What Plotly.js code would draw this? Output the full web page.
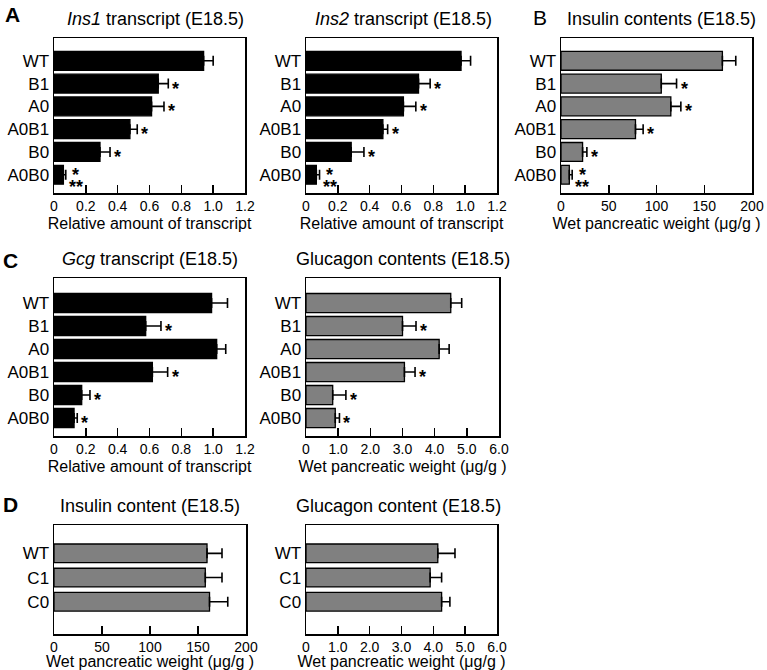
<!DOCTYPE html>
<html>
<head>
<meta charset="utf-8">
<script src="https://cdn.plot.ly/plotly-3.0.1.min.js"></script>
<style>
  body { margin: 0; background: #fff; }
  #chart { width: 767px; height: 670px; }
</style>
</head>
<body>
<div id="chart"></div>
<script>
// genotypes
const catsAC = ["WT", "B1", "A0", "A0B1", "B0", "A0B0"];
const catsD = ["WT", "C1", "C0"];

// A: Ins1 / Ins2 transcript (relative amount)
const ins1Val = [0.94, 0.655, 0.613, 0.477, 0.289, 0.059];
const ins1Err = [0.06, 0.063, 0.078, 0.046, 0.063, 0.015];
const ins2Val = [0.974, 0.707, 0.612, 0.483, 0.284, 0.065];
const ins2Err = [0.06, 0.073, 0.078, 0.03, 0.08, 0.02];
// B: insulin contents (ug/g)
const insContVal = [169, 105, 115, 78, 22.6, 8.7];
const insContErr = [14, 16, 10.5, 8, 4.5, 3];
// C: Gcg transcript / glucagon contents
const gcgVal = [0.99, 0.576, 1.022, 0.618, 0.174, 0.126];
const gcgErr = [0.1, 0.096, 0.057, 0.096, 0.052, 0.02];
const glucContVal = [4.5, 3.0, 4.14, 3.06, 0.83, 0.91];
const glucContErr = [0.34, 0.42, 0.31, 0.33, 0.41, 0.13];
// D: insulin / glucagon content
const insDVal = [159.4, 157.6, 162];
const insDErr = [15.6, 17.4, 19];
const glucDVal = [4.14, 3.9, 4.26];
const glucDErr = [0.54, 0.36, 0.26];

// significance marks: "*" vs WT, "**" second comparison
const starAB = ["", "*", "*", "*", "*", "*"];
const dstarAB = ["", "", "", "", "", "**"];
const starGcg = ["", "*", "", "*", "*", "*"];
const starGluc = ["", "*", "", "*", "*", "*"];
const noStars = ["", "", ""];

// tick labels
const relTicks = [0, 0.2, 0.4, 0.6, 0.8, 1.0, 1.2];
const relTickText = ["0", "0.2", "0.4", "0.6", "0.8", "1.0", "1.2"];
const ugTicks = [0, 50, 100, 150, 200];
const ugTickText = ["0", "50", "100", "150", "200"];
const gluTicks = [0, 1, 2, 3, 4, 5, 6];
const gluTickText = ["0", "1.0", "2.0", "3.0", "4.0", "5.0", "6.0"];

const W = 767, H = 670;
const FONT = "Arial, Liberation Sans, sans-serif";
const relTitle = "Relative amount of transcript";
const ugTitle = "Wet pancreatic weight (\u03bcg/g )";

var data = [];
var layout = {
  width: W,
  height: H,
  margin: { l: 0, r: 0, t: 0, b: 0 },
  paper_bgcolor: "#fff",
  plot_bgcolor: "#fff",
  showlegend: false,
  font: { family: FONT, color: "#000" },
  annotations: [],
};

function fx(px) { return px / W; }
function fy(py) { return 1 - py / H; }

function addPanel(n, box, titleX, cats, vals, errs, color, yRange, xMax, tickvals, ticktext, xTitle, title, stars, dstars, barWidth) {
  var xa = n === 1 ? "x" : "x" + n;
  var ya = n === 1 ? "y" : "y" + n;
  data.push({
    type: "bar",
    orientation: "h",
    x: vals,
    y: cats,
    xaxis: xa,
    yaxis: ya,
    width: barWidth,
    marker: { color: color, line: { color: "#000", width: 1.3 } },
    error_x: {
      type: "data",
      array: errs,
      arrayminus: errs.map(() => 0),
      symmetric: false,
      color: "#000",
      thickness: 1.6,
      width: 5,
    },
    hoverinfo: "none",
  });

  layout["xaxis" + (n === 1 ? "" : n)] = {
    domain: [fx(box[0]), fx(box[1])],
    anchor: ya,
    range: [0, xMax],
    tickvals: tickvals,
    ticktext: ticktext,
    ticks: "inside",
    ticklen: 8,
    tickwidth: 1.5,
    tickcolor: "#000",
    showline: true,
    linecolor: "#000",
    linewidth: 1.5,
    mirror: true,
    showgrid: false,
    zeroline: false,
    tickfont: { size: 14, family: FONT },
    title: { text: xTitle, font: { size: 16, family: FONT }, standoff: 4 },
    fixedrange: true,
  };
  layout["yaxis" + (n === 1 ? "" : n)] = {
    domain: [fy(box[3]), fy(box[2])],
    anchor: xa,
    type: "category",
    range: yRange,
    ticks: "",
    showline: true,
    linecolor: "#000",
    linewidth: 1.5,
    mirror: true,
    showgrid: false,
    tickfont: { size: 17, family: FONT },
    fixedrange: true,
  };

  // panel title
  layout.annotations.push({
    xref: "paper", yref: "paper",
    x: fx(titleX), y: fy(box[2] - 19),
    text: title, showarrow: false,
    font: { size: 18, family: FONT },
    xanchor: "center", yanchor: "middle",
  });

  // significance stars
  for (let i = 0; i < cats.length; i++) {
    var xEnd = vals[i] + errs[i];
    if (stars[i] && dstars && dstars[i]) {
      layout.annotations.push({
        xref: xa, yref: ya, x: xEnd, y: cats[i], text: "<b>" + stars[i] + "</b>",
        showarrow: false, xanchor: "center", xshift: 10, yshift: 0,
        font: { size: 18, family: FONT },
      });
      layout.annotations.push({
        xref: xa, yref: ya, x: xEnd, y: cats[i], text: "<b>" + dstars[i] + "</b>",
        showarrow: false, xanchor: "center", xshift: 10, yshift: -12,
        font: { size: 18, family: FONT },
      });
    } else if (stars[i]) {
      layout.annotations.push({
        xref: xa, yref: ya, x: xEnd, y: cats[i], text: "<b>" + stars[i] + "</b>",
        showarrow: false, xanchor: "left", xshift: 2, yshift: -5,
        font: { size: 18, family: FONT },
      });
    }
  }
}

// boxes: [left, right, top, bottom] in px
addPanel(1, [54, 245, 38, 193], 155, catsAC, ins1Val, ins1Err, "#000", [5.8, -1.0], 1.2,
  relTicks, relTickText, relTitle, "<i>Ins1</i> transcript (E18.5)", starAB, dstarAB, 0.83);
addPanel(2, [306, 497, 38, 193], 403, catsAC, ins2Val, ins2Err, "#000", [5.8, -1.0], 1.2,
  relTicks, relTickText, relTitle, "<i>Ins2</i> transcript (E18.5)", starAB, dstarAB, 0.83);
addPanel(3, [561, 752, 38, 193], 661, catsAC, insContVal, insContErr, "#808080", [5.8, -1.0], 200,
  ugTicks, ugTickText, ugTitle, "Insulin contents (E18.5)", starAB, dstarAB, 0.83);
addPanel(4, [54, 245, 278, 436], 150, catsAC, gcgVal, gcgErr, "#000", [5.78, -1.09], 1.2,
  relTicks, relTickText, relTitle, "<i>Gcg</i> transcript (E18.5)", starGcg, null, 0.83);
addPanel(5, [306, 499, 278, 436], 403, catsAC, glucContVal, glucContErr, "#808080", [5.78, -1.09], 6,
  gluTicks, gluTickText, ugTitle, "Glucagon contents (E18.5)", starGluc, null, 0.83);
addPanel(6, [54, 246, 525, 634], 150, catsD, insDVal, insDErr, "#808080", [3.33, -1.17], 200,
  ugTicks, ugTickText, ugTitle, "Insulin content (E18.5)", noStars, null, 0.77);
addPanel(7, [306, 497, 525, 634], 398, catsD, glucDVal, glucDErr, "#808080", [3.33, -1.17], 6,
  gluTicks, gluTickText, ugTitle, "Glucagon content (E18.5)", noStars, null, 0.77);

// panel letters
var letters = [
  { t: "<b>A</b>", x: 12, y: 15 },
  { t: "B", x: 540, y: 18 },
  { t: "<b>C</b>", x: 10, y: 260 },
  { t: "<b>D</b>", x: 10, y: 505 },
];
letters.forEach((l) => {
  layout.annotations.push({
    xref: "paper", yref: "paper", x: fx(l.x), y: fy(l.y),
    text: l.t, showarrow: false, xanchor: "center", yanchor: "middle",
    font: { size: 21, family: FONT },
  });
});

Plotly.newPlot("chart", data, layout, { staticPlot: true, displayModeBar: false });
</script>
</body>
</html>
